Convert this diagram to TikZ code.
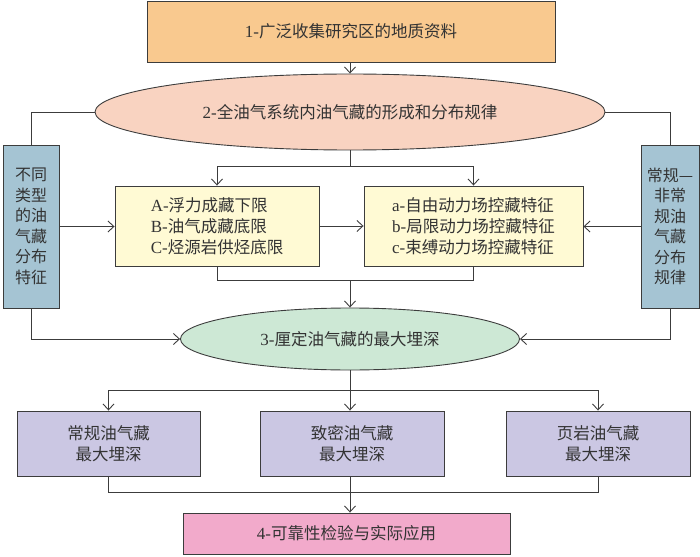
\documentclass[tikz,border=0pt]{standalone}
\usepackage{fontspec}
\newfontfamily\cjk{Noto Sans CJK SC}
\newfontfamily\lat{Liberation Serif}
\usetikzlibrary{shapes.geometric,arrows.meta}
\definecolor{cOrange}{HTML}{F9C98F}
\definecolor{cSalmon}{HTML}{F9D3C1}
\definecolor{cYellow}{HTML}{FFFAD4}
\definecolor{cBlue}{HTML}{A5C4D3}
\definecolor{cGreen}{HTML}{CDE8D5}
\definecolor{cLav}{HTML}{CBC7E3}
\definecolor{cPink}{HTML}{F2AACB}
\definecolor{cLine}{HTML}{3C3C3C}
\definecolor{cText}{HTML}{333333}
\newcommand{\ltx}[1]{{\lat\fontsize{17}{21}\selectfont #1}}
\tikzset{
  base/.style={draw=cLine, line width=0.9pt, text=cText, font=\cjk\fontsize{16.5}{21}\selectfont, inner sep=0pt},
  rectbox/.style={base, rectangle},
  ellbox/.style={base, ellipse},
  tallbox/.style={rectbox, fill=cBlue, minimum height=163, align=center, font=\cjk\fontsize{16}{20.5}\selectfont},
  conn/.style={draw=cLine, line width=0.9pt},
  arr/.style={conn, -{Straight Barb[length=6pt,width=11pt,line width=0.9pt]}},
}
\begin{document}
\begin{tikzpicture}[x=1pt,y=-1pt]
\useasboundingbox (0,0) rectangle (700,556);
\node[rectbox, fill=cOrange, minimum width=408, minimum height=61] (b1) at (351,31.5) {\ltx{1-}广泛收集研究区的地质资料};
\node[ellbox, fill=cSalmon, minimum width=510, minimum height=76] (e2) at (350,112) {\ltx{2-}全油气系统内油气藏的形成和分布规律};
\node[rectbox, fill=cYellow, minimum width=204, minimum height=80, align=left] (bA) at (217,226) {\ltx{A-}浮力成藏下限\\\ltx{B-}油气成藏底限\\\ltx{C-}烃源岩供烃底限};
\node[rectbox, fill=cYellow, minimum width=219, minimum height=80, align=left] (ba) at (473.5,226) {\ltx{a-}自由动力场控藏特征\\\ltx{b-}局限动力场控藏特征\\\ltx{c-}束缚动力场控藏特征};
\node[tallbox, minimum width=56] (lb) at (31,226.5) {不同\\类型\\的油\\气藏\\分布\\特征};
\node[tallbox, minimum width=58] (rb) at (670,226.5) {常规—\\非常\\规油\\气藏\\分布\\规律};
\node[ellbox, fill=cGreen, minimum width=339, minimum height=62] (e3) at (350,339) {\ltx{3-}厘定油气藏的最大埋深};
\node[rectbox, fill=cLav, minimum width=183, minimum height=65, align=center] (c1) at (108.5,443.5) {常规油气藏\\最大埋深};
\node[rectbox, fill=cLav, minimum width=184, minimum height=65, align=center] (c2) at (352,443.5) {致密油气藏\\最大埋深};
\node[rectbox, fill=cLav, minimum width=184, minimum height=65, align=center] (c3) at (598,443.5) {页岩油气藏\\最大埋深};
\node[rectbox, fill=cPink, minimum width=327, minimum height=41] (b4) at (346.5,533.5) {\ltx{4-}可靠性检验与实际应用};
\coordinate (j1) at (350,166);
\coordinate (j2) at (350,280);
\coordinate (j3) at (350,390);
\coordinate (j4) at (350,492);
\draw[arr] (b1.south -| e2.north) -- (e2.north);
\draw[conn] (e2.west) -| (lb.north);
\draw[conn] (e2.east) -| (rb.north);
\draw[conn] (e2.south) -- (j1);
\draw[arr] (j1) -| (bA.north);
\draw[arr] (j1) -| (ba.north);
\draw[arr] (lb.east) -- (bA.west |- lb.east);
\draw[arr] (bA.east) -- (ba.west);
\draw[arr] (rb.west) -- (ba.east |- rb.west);
\draw[conn] (bA.south) |- (j2);
\draw[conn] (ba.south) |- (j2);
\draw[arr] (j2) -- (e3.north);
\draw[arr] (lb.south) |- (e3.west);
\draw[arr] (rb.south) |- (e3.east);
\draw[conn] (e3.south) -- (j3);
\draw[arr] (j3) -| (c1.north);
\draw[arr] (j3) -- (j3 |- c2.north);
\draw[arr] (j3) -| (c3.north);
\draw[conn] (c1.south) |- (j4);
\draw[conn] (c3.south) |- (j4);
\draw[conn] (c2.south -| j4) -- (j4);
\draw[arr] (j4) -- (j4 |- b4.north);
\end{tikzpicture}
\end{document}
